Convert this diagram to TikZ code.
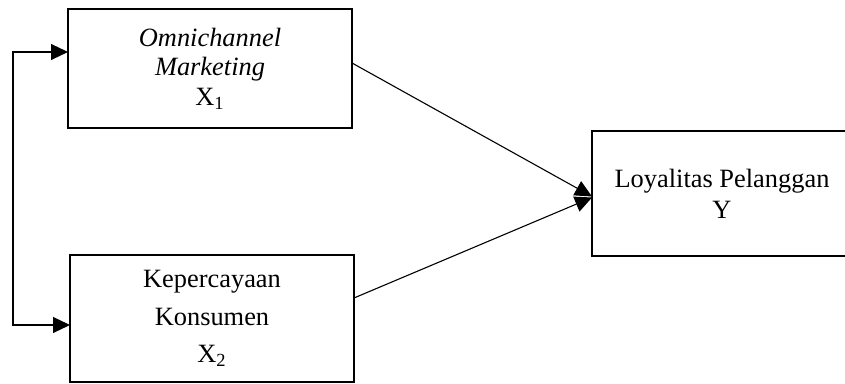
\documentclass[tikz,border=0pt]{standalone}
\usepackage{fontspec}
\setmainfont{Liberation Serif}
\usetikzlibrary{arrows.meta}

\begin{document}
\begin{tikzpicture}[
    x=0.5pt, y=0.5pt,
    every node/.style={draw, line width=1.1pt, align=center, inner sep=0pt, outer sep=0pt, font=\fontsize{13.2}{14.8}\selectfont},
    var/.style={minimum width=142pt, minimum height=59.5pt},
    link/.style={line width=0.55pt, -{Triangle[length=8.5pt,width=8pt]}},
    twoway/.style={line width=0.55pt, {Triangle[length=8.5pt,width=8pt]}-{Triangle[length=8.5pt,width=8pt]}}
]
\useasboundingbox (0,0) rectangle (845,384);
\clip (0,0) rectangle (845,384);

\node[var] (x1) at (210,315.5) {\textit{Omnichannel}\\ \textit{Marketing}\\ X\textsubscript{1}};
\node[var, minimum height=63.5pt, font=\fontsize{13.2}{18.8}\selectfont] (x2) at (212,65.5) {Kepercayaan\\ Konsumen\\ X\textsubscript{2}};
\node[var, minimum width=130pt, minimum height=62.5pt, font=\fontsize{13.2}{15.5}\selectfont] (y) at (722,190.5) {Loyalitas Pelanggan\\ Y};

% Connections
\coordinate (bus) at (13,0);
\coordinate (x1in) at ([yshift=8.25pt]x1.west);
\coordinate (x2in) at ([yshift=-3.25pt]x2.west);
\draw[twoway] (x1in) -- (bus |- x1in) -- (bus |- x2in) -- (x2in);
\draw[link] ([yshift=2.75pt]x1.east) -- ([yshift=-1.5pt]y.west);
\draw[link] ([yshift=10.25pt]x2.east) -- ([yshift=-2pt]y.west);

\end{tikzpicture}
\end{document}
